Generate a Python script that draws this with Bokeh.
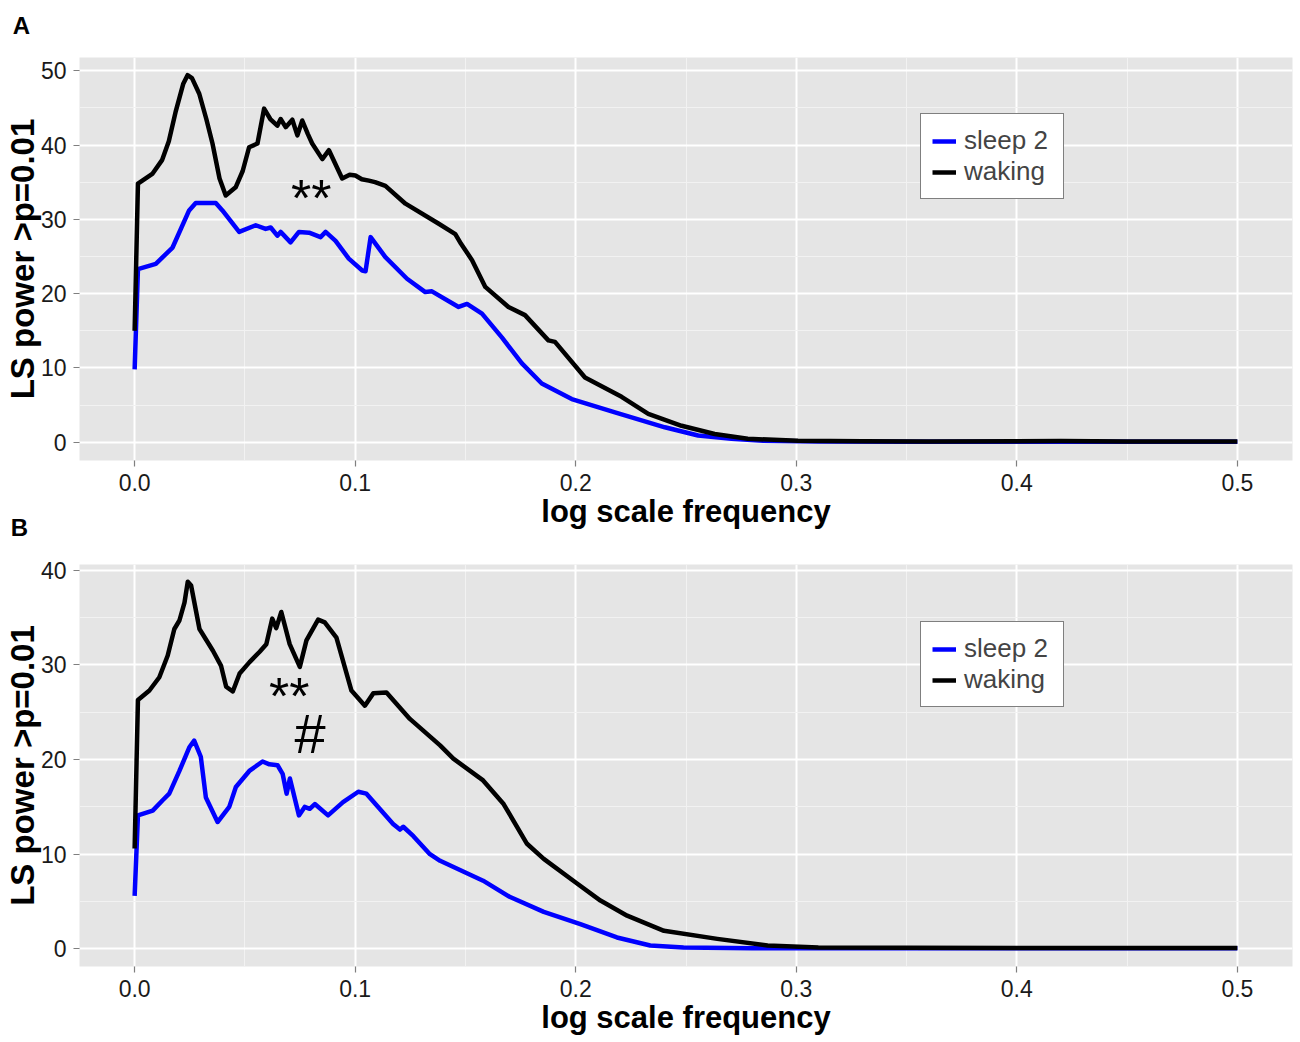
from bokeh.plotting import figure
from bokeh.models import Range1d, FixedTicker, Label, Legend, LegendItem, NumeralTickFormatter
from bokeh.layouts import column
from bokeh.embed import file_html
from bokeh.resources import INLINE

# ---------------- data ----------------
x_major = [0.0, 0.1, 0.2, 0.3, 0.4, 0.5]
x_minor = [0.05, 0.15, 0.25, 0.35, 0.45]

series_names = ["sleep 2", "waking"]
panel_letters = ["A", "B"]

# Panel A
a_sleep_f = [0, 0.0015, 0.0096, 0.0172, 0.0247, 0.0277, 0.0368, 0.0398, 0.0474, 0.0549,
             0.0594, 0.0617, 0.0647, 0.0662, 0.0707, 0.0745, 0.0791, 0.0843, 0.0866, 0.0911,
             0.0971, 0.1032, 0.1047, 0.1070, 0.1137, 0.1235, 0.1318, 0.1348, 0.1469, 0.1507,
             0.1575, 0.1665, 0.1756, 0.1846, 0.1982, 0.2178, 0.2404, 0.2555, 0.2706, 0.285,
             0.31, 0.35, 0.4, 0.45, 0.5]
a_sleep_p = [9.8, 23.3, 24.0, 26.2, 31.2, 32.2, 32.2, 31.2, 28.3, 29.2,
             28.7, 28.9, 27.8, 28.3, 26.9, 28.3, 28.2, 27.6, 28.3, 27.1,
             24.7, 23.1, 23.0, 27.6, 24.9, 22.0, 20.2, 20.3, 18.2, 18.6,
             17.3, 14.1, 10.6, 7.9, 5.8, 4.0, 2.0, 0.9, 0.45, 0.2,
             0.08, 0.05, 0.05, 0.05, 0.05]

a_wake_f = [0, 0.0015, 0.008, 0.0125, 0.0155, 0.0187, 0.022, 0.024, 0.026, 0.0293,
            0.0325, 0.0353, 0.0385, 0.0413, 0.0458, 0.049, 0.0519, 0.0557, 0.0587, 0.0615,
            0.0647, 0.0662, 0.0685, 0.0715, 0.0738, 0.076, 0.0785, 0.0805, 0.0851, 0.0881,
            0.0941, 0.0975, 0.1001, 0.103, 0.1062, 0.109, 0.1137, 0.1228, 0.1379, 0.1454,
            0.148, 0.153, 0.159, 0.1695, 0.177, 0.1876, 0.1906, 0.2042, 0.2208, 0.2329,
            0.248, 0.263, 0.278, 0.3008, 0.33, 0.36, 0.4, 0.42, 0.45, 0.5]
a_wake_p = [15.0, 34.8, 36.1, 38.0, 40.5, 44.6, 48.2, 49.4, 49.0, 46.9,
            43.5, 40.2, 35.5, 33.2, 34.3, 36.5, 39.7, 40.2, 44.9, 43.5,
            42.6, 43.5, 42.4, 43.4, 41.3, 43.3, 41.5, 40.2, 38.1, 39.3,
            35.5, 36.0, 35.9, 35.4, 35.2, 35.0, 34.5, 32.1, 29.4, 28.0,
            26.7, 24.5, 20.9, 18.2, 17.1, 13.7, 13.5, 8.7, 6.1, 3.8,
            2.2, 1.1, 0.45, 0.2, 0.12, 0.1, 0.12, 0.15, 0.1, 0.1]

# Panel B
b_sleep_f = [0, 0.0015, 0.0082, 0.0127, 0.0157, 0.0203, 0.0248, 0.027, 0.03, 0.0323,
             0.0376, 0.0429, 0.0459, 0.052, 0.058, 0.0611, 0.0648, 0.0671, 0.0689, 0.0704,
             0.0745, 0.0771, 0.0794, 0.0817, 0.0877, 0.0945, 0.1014, 0.1051, 0.1172, 0.1203,
             0.1218, 0.1264, 0.1339, 0.1385, 0.158, 0.17, 0.1855, 0.2021, 0.2187, 0.2338,
             0.2489, 0.28, 0.5]
b_sleep_p = [5.6, 14.1, 14.6, 15.7, 16.4, 18.8, 21.3, 22.0, 20.3, 16.0,
             13.4, 15.0, 17.1, 18.8, 19.8, 19.5, 19.4, 18.5, 16.4, 18.0,
             14.1, 15.0, 14.8, 15.3, 14.1, 15.5, 16.6, 16.4, 13.2, 12.6,
             12.9, 11.9, 10.0, 9.3, 7.2, 5.5, 3.9, 2.6, 1.2, 0.35,
             0.15, 0.05, 0.05]

b_wake_f = [0, 0.0015, 0.0067, 0.0112, 0.015, 0.018, 0.0203, 0.0226, 0.0241, 0.0256,
            0.0294, 0.0355, 0.0392, 0.0415, 0.0445, 0.0476, 0.0521, 0.0567, 0.0597, 0.0624,
            0.0642, 0.0665, 0.0703, 0.0749, 0.0779, 0.0832, 0.0862, 0.0915, 0.0983, 0.1044,
            0.1082, 0.1142, 0.1248, 0.1385, 0.1445, 0.158, 0.1673, 0.1779, 0.1855, 0.2006,
            0.2112, 0.2233, 0.24, 0.2642, 0.287, 0.31, 0.35, 0.4, 0.5]
b_wake_p = [10.6, 26.3, 27.3, 28.7, 31.0, 33.8, 34.7, 36.6, 38.8, 38.4,
            33.8, 31.5, 29.9, 27.7, 27.2, 29.1, 30.3, 31.4, 32.2, 34.9,
            33.9, 35.6, 32.2, 29.8, 32.6, 34.8, 34.5, 32.9, 27.3, 25.7,
            27.0, 27.1, 24.3, 21.5, 20.1, 17.8, 15.3, 11.1, 9.5, 6.9,
            5.1, 3.5, 1.9, 1.05, 0.35, 0.15, 0.1, 0.08, 0.08]

a_y_major = [0, 10, 20, 30, 40, 50]
a_y_minor = [5, 15, 25, 35, 45]
b_y_major = [0, 10, 20, 30, 40]
b_y_minor = [5, 15, 25, 35]

FONT = "Liberation Sans"


def make_panel(height, top, bottom, y_lo, y_hi, y_major, y_minor,
               sleep_f, sleep_p, wake_f, wake_p, legend_loc):
    p = figure(width=1300, height=height, output_backend="svg", toolbar_location=None,
               x_range=Range1d(-0.025, 0.525), y_range=Range1d(y_lo, y_hi),
               min_border_left=77, min_border_right=8,
               min_border_top=top, min_border_bottom=bottom)
    p.background_fill_color = "#e5e5e5"
    p.border_fill_color = "white"
    p.outline_line_color = None

    p.xaxis.ticker = FixedTicker(ticks=x_major, minor_ticks=x_minor)
    p.yaxis.ticker = FixedTicker(ticks=y_major, minor_ticks=y_minor)
    p.xaxis.formatter = NumeralTickFormatter(format="0.0")

    for ax in (p.xaxis, p.yaxis):
        ax.axis_line_color = None
        ax.major_tick_line_color = "#7f7f7f"
        ax.major_tick_line_width = 1.2
        ax.major_tick_in = 0
        ax.major_tick_out = 6
        ax.minor_tick_line_color = None
        ax.major_label_text_font = FONT
        ax.major_label_text_font_size = "23px"
        ax.major_label_text_color = "#1a1a1a"
        ax.axis_label_text_font = FONT
        ax.axis_label_text_font_style = "bold"
        ax.axis_label_text_color = "black"
    p.xaxis.axis_label_text_font_size = "31px"
    p.yaxis.axis_label_text_font_size = "33px"
    p.xaxis.major_label_standoff = 7
    p.yaxis.major_label_standoff = 7
    p.xaxis.axis_label = "log scale frequency"
    p.yaxis.axis_label = "LS power >p=0.01"
    p.xaxis.axis_label_standoff = 0
    p.yaxis.axis_label_standoff = -3

    for g in (p.xgrid, p.ygrid):
        g.grid_line_color = "white"
        g.grid_line_width = 2
        g.minor_grid_line_color = "#f2f2f2"
        g.minor_grid_line_width = 1

    r_sleep = p.line(sleep_f, sleep_p, line_color="#0000ff", line_width=4.5, line_join="round")
    r_wake = p.line(wake_f, wake_p, line_color="black", line_width=4.5, line_join="round")

    legend = Legend(items=[LegendItem(label=series_names[0], renderers=[r_sleep]),
                           LegendItem(label=series_names[1], renderers=[r_wake])],
                    location=legend_loc)
    legend.background_fill_color = "white"
    legend.background_fill_alpha = 1.0
    legend.border_line_color = "black"
    legend.border_line_width = 1.5
    legend.label_text_font = FONT
    legend.label_text_font_size = "26px"
    legend.glyph_width = 24
    legend.glyph_height = 30
    legend.label_height = 30
    legend.label_width = 88
    legend.label_standoff = 8
    legend.padding = 11
    legend.spacing = 0
    legend.margin = 0
    p.add_layout(legend)
    return p


pA = make_panel(542, 57, 82, -2.47, 51.78, a_y_major, a_y_minor,
                a_sleep_f, a_sleep_p, a_wake_f, a_wake_p, (841, 261))
pB = make_panel(500, 22, 76, -1.87, 40.62, b_y_major, b_y_minor,
                b_sleep_f, b_sleep_p, b_wake_f, b_wake_p, (841, 259))

# annotations
pA.add_layout(Label(x=0.0801, y=32.85, text="**", text_font=FONT, text_font_size="52px",
                    text_align="center", text_baseline="middle", text_color="black"))
pB.add_layout(Label(x=0.0701, y=26.7, text="**", text_font=FONT, text_font_size="52px",
                    text_align="center", text_baseline="middle", text_color="black"))
pB.add_layout(Label(x=0.0796, y=22.8, text="#", text_font=FONT, text_font_size="56px",
                    text_align="center", text_baseline="middle", text_color="black"))

# panel letters: placed in the upper figure's top border area (not clipped to the frame)
letter_x = [-0.0553, -0.0562]
letter_y = [56.08, -11.48]
for lx, ly, lt in zip(letter_x, letter_y, panel_letters):
    pA.add_layout(Label(x=lx, y=ly, text=lt, text_font=FONT, text_font_size="24px",
                        text_font_style="bold", text_align="left", text_baseline="middle",
                        text_color="black"), "above")

layout = column(pA, pB, spacing=0)
open("out.html", "w").write(file_html(layout, INLINE))
